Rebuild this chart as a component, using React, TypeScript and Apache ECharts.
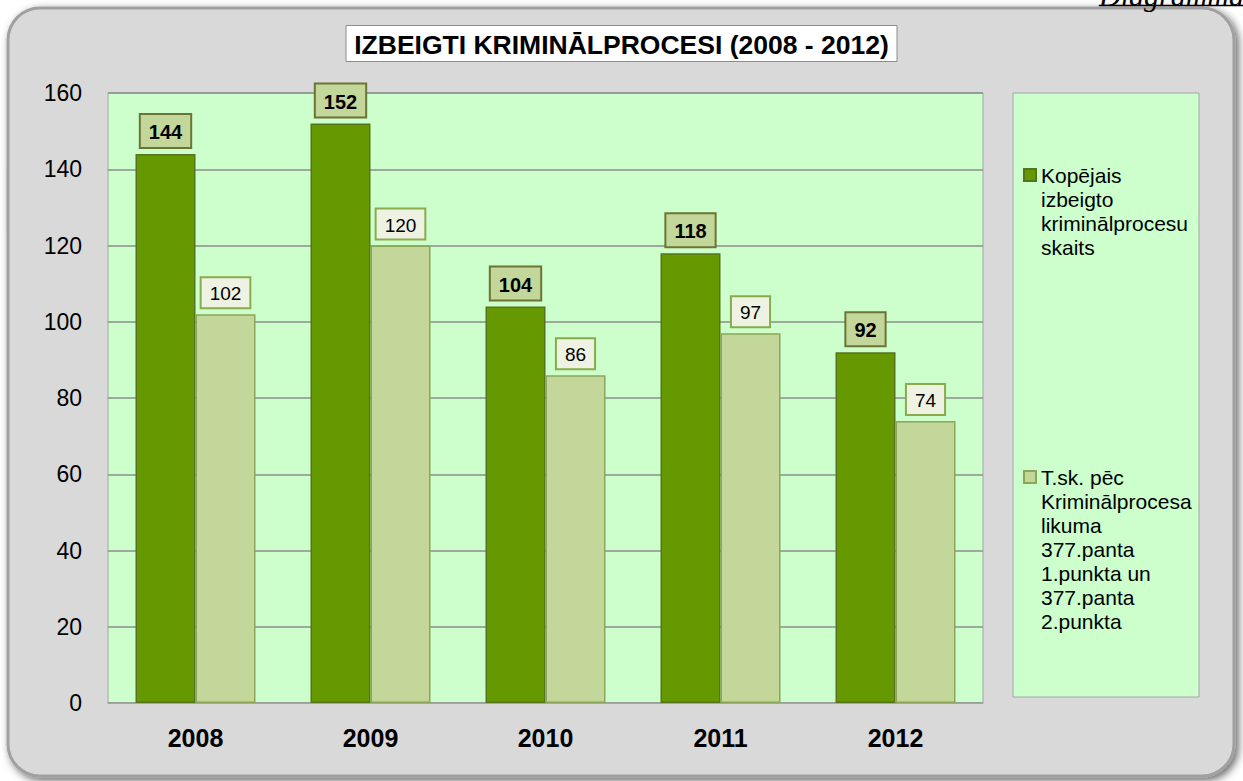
import React, { useEffect, useRef } from "react";
import * as echarts from "echarts";

const years = ["2008", "2009", "2010", "2011", "2012"];
const totalValues = [144, 152, 104, 118, 92];
const subsetValues = [102, 120, 86, 97, 74];
const yTicks = { min: 0, max: 160, interval: 20 };
const seriesNames = [
  "Kopējais\nizbeigto\nkriminālprocesu\nskaits",
  "T.sk. pēc\nKriminālprocesa\nlikuma\n377.panta\n1.punkta un\n377.panta\n2.punkta",
];
const titleText = "IZBEIGTI KRIMINĀLPROCESI (2008 - 2012)";
const cornerText = "Diagramma";

const FONT = "'Liberation Sans', Arial, sans-serif";
const LINE_H = 24;

export default function App() {
  const ref = useRef<HTMLDivElement>(null);
  useEffect(() => {
    if (!ref.current) return;
    const chart = echarts.init(ref.current, null, { renderer: "svg" });
    const option: any = {
      animation: false,
      textStyle: { fontFamily: FONT },
      graphic: [
        {
          type: "rect",
          z: -10,
          shape: { x: 8, y: 8, width: 1226, height: 768, r: 32 },
          style: {
            fill: "#d9d9d9",
            stroke: "#a0a0a0",
            lineWidth: 3,
            shadowBlur: 8,
            shadowOffsetX: 3,
            shadowOffsetY: 3,
            shadowColor: "rgba(0,0,0,0.6)",
          },
        },
        {
          type: "rect",
          z: -5,
          shape: { x: 1013, y: 93, width: 186, height: 604 },
          style: { fill: "#ccffcc", stroke: "#a6a6a6", lineWidth: 1 },
        },
        {
          type: "text",
          x: 1099,
          y: 10.5,
          style: {
            text: cornerText,
            font: "italic 30px 'Liberation Serif', 'Times New Roman', serif",
            fill: "#000",
            verticalAlign: "bottom",
            align: "left",
          },
        },
        {
          type: "line",
          shape: { x1: 1099, y1: 5.5, x2: 1243, y2: 5.5 },
          style: { stroke: "#000", lineWidth: 1.5 },
        },
      ],
      title: {
        text: titleText,
        left: "center",
        top: 25,
        padding: [6, 8, 4, 8],
        backgroundColor: "#ffffff",
        borderColor: "#8c8c8c",
        borderWidth: 1,
        textStyle: {
          fontFamily: FONT,
          fontSize: 26.5,
          fontWeight: "bold",
          color: "#000",
        },
      },
      legend: {
        orient: "vertical",
        left: 1023,
        top: 91,
        padding: 0,
        itemWidth: 12,
        itemHeight: 12,
        itemGap: 62,
        icon: "rect",
        textStyle: { fontFamily: FONT, fontSize: 21, lineHeight: LINE_H, color: "#000" },
        formatter: (name: string) =>
          "\n".repeat(name.split("\n").length - 1) + name,
        data: seriesNames,
      },
      grid: {
        left: 108,
        right: 260,
        top: 93,
        bottom: 78,
        show: true,
        backgroundColor: "#ccffcc",
        borderColor: "#a6a6a6",
        borderWidth: 1,
      },
      xAxis: {
        type: "category",
        data: years,
        axisTick: { show: false },
        axisLine: { lineStyle: { color: "#a6a6a6", width: 1 } },
        axisLabel: {
          fontFamily: FONT,
          fontSize: 25,
          fontWeight: "bold",
          color: "#000",
          margin: 22,
        },
      },
      yAxis: {
        type: "value",
        min: yTicks.min,
        max: yTicks.max,
        interval: yTicks.interval,
        axisLine: { show: false },
        axisTick: { show: false },
        splitLine: { lineStyle: { color: "#8c8c8c", width: 1.5 } },
        axisLabel: { fontFamily: FONT, fontSize: 23, color: "#000", margin: 26 },
      },
      series: [
        {
          name: seriesNames[0],
          type: "bar",
          data: totalValues,
          barWidth: 60,
          barGap: "0%",
          itemStyle: { color: "#669900", borderColor: "#55741f", borderWidth: 1.5 },
          label: {
            show: true,
            position: "top",
            distance: 7,
            fontFamily: FONT,
            fontSize: 20,
            fontWeight: "bold",
            color: "#000",
            backgroundColor: "#c4d79b",
            borderColor: "#6b7533",
            borderWidth: 2,
            padding: [7, 8, 5, 8],
          },
        },
        {
          name: seriesNames[1],
          type: "bar",
          data: subsetValues,
          barWidth: 60,
          barGap: "0%",
          itemStyle: { color: "#c4d79b", borderColor: "#8aa656", borderWidth: 1.5 },
          label: {
            show: true,
            position: "top",
            distance: 7,
            fontFamily: FONT,
            fontSize: 19,
            color: "#000",
            backgroundColor: "#eef2e2",
            borderColor: "#8aab4a",
            borderWidth: 2,
            padding: [6, 8, 4, 8],
          },
        },
      ],
    };
    chart.setOption(option);
    return () => chart.dispose();
  }, []);
  return (
    <div
      ref={ref}
      style={{ position: "absolute", left: 0, top: 0, width: 1243, height: 781 }}
    />
  );
}
